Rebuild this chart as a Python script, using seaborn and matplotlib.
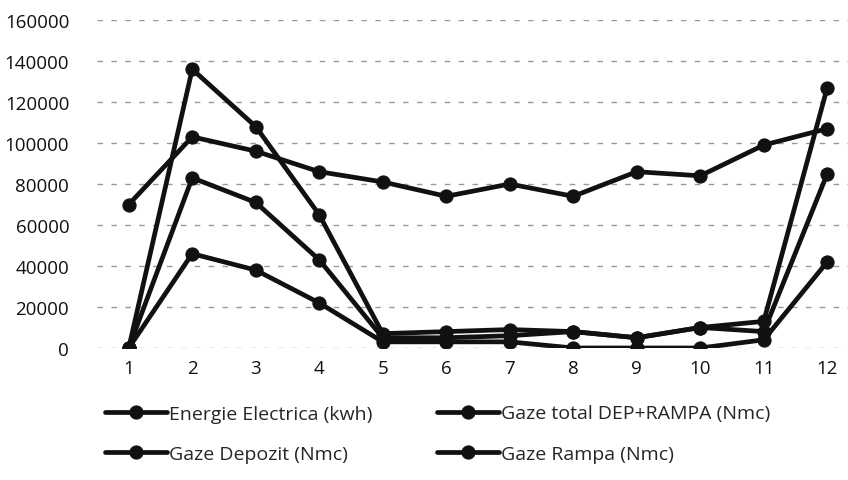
import numpy as np
import pandas as pd
import matplotlib
matplotlib.use("Agg")
import matplotlib.pyplot as plt
import seaborn as sns

months = list(range(1, 13))
energie = [70000, 103000, 96000, 86000, 81000, 74000, 80000, 74000, 86000, 84000, 99000, 107000]
gaze_total = [0, 136000, 108000, 65000, 7000, 8000, 9000, 8000, 5000, 10000, 13000, 127000]
gaze_depozit = [0, 83000, 71000, 43000, 5000, 5000, 6000, 8000, 5000, 10000, 8000, 85000]
gaze_rampa = [0, 46000, 38000, 22000, 3000, 3000, 3000, 0, 0, 0, 4000, 42000]

series_names = ["Energie Electrica (kwh)", "Gaze total DEP+RAMPA (Nmc)",
                "Gaze Depozit (Nmc)", "Gaze Rampa (Nmc)"]

df = pd.DataFrame({
    "luna": months * 4,
    "valoare": energie + gaze_total + gaze_depozit + gaze_rampa,
    "serie": [n for n in series_names for _ in months],
})

sns.set_theme(style="white")
plt.rcParams["font.family"] = ["Open Sans", "DejaVu Sans"]

fig = plt.figure(figsize=(8.48, 4.81), dpi=100)
ax = fig.add_axes([97 / 848, 1 - 349 / 481, 762 / 848, (349 - 21) / 481])

sns.lineplot(data=df, x="luna", y="valoare", hue="serie", hue_order=series_names,
             palette=["#111111"] * 4, marker="o", markersize=9.5, linewidth=3.4,
             markeredgecolor="#111111", ax=ax, legend=True)

ax.set_xlim(0.5, 12.5)
ax.set_ylim(0, 160000)
ax.set_xticks(months)
ax.set_yticks(np.arange(0, 160001, 20000))
ax.yaxis.grid(True, color="#999999", linestyle=(0, (4, 6)), linewidth=1)
ax.set_axisbelow(True)
for s in ax.spines.values():
    s.set_visible(False)
ax.tick_params(axis="both", labelsize=13.5, length=0, colors="#111111")
ax.tick_params(axis="y", pad=20)
ax.tick_params(axis="x", pad=8)
ax.set_xlabel("")
ax.set_ylabel("")

# legend reads row by row in the reference: reorder for column-wise fill
handles, labels = ax.get_legend_handles_labels()
ax.legend_.remove()
order = [0, 2, 1, 3]
fig.legend([handles[i] for i in order], [labels[i] for i in order],
           loc="upper left", bbox_to_anchor=(0.103, 1 - 388 / 481),
           ncol=2, frameon=False, fontsize=14, handlelength=3.2, handletextpad=0.1,
           columnspacing=3.3, labelspacing=1.16)

fig.savefig("out.png", dpi=100)
